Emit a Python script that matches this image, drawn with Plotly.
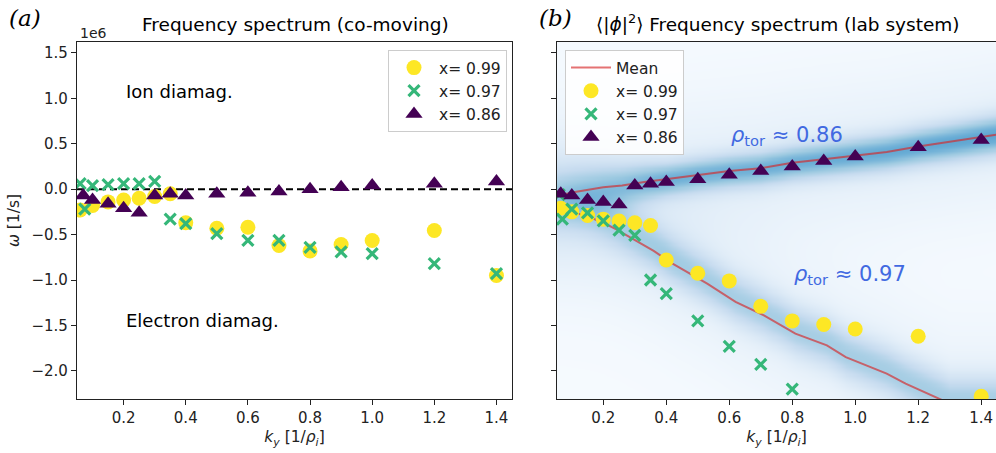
import numpy as np
import plotly.graph_objects as go

# ---------------- data (omega in units of 1e6 1/s) ----------------
k_99_co = [0.06, 0.1, 0.15, 0.2, 0.25, 0.3, 0.35, 0.4, 0.5, 0.6, 0.7, 0.8, 0.9, 1.0, 1.2, 1.4]
w_99_co = [-0.23, -0.18, -0.14, -0.12, -0.10, -0.08, -0.05, -0.37, -0.43, -0.42, -0.62, -0.68, -0.61, -0.565, -0.455, -0.95]

k_97_co = [0.06, 0.075, 0.1, 0.15, 0.2, 0.25, 0.3, 0.35, 0.4, 0.5, 0.6, 0.7, 0.8, 0.9, 1.0, 1.2, 1.4]
w_97_co = [0.06, -0.22, 0.04, 0.05, 0.06, 0.06, 0.085, -0.33, -0.38, -0.49, -0.565, -0.565, -0.64, -0.69, -0.71, -0.82, -0.93]

k_86_co = [0.07, 0.1, 0.15, 0.2, 0.25, 0.3, 0.35, 0.4, 0.5, 0.6, 0.7, 0.8, 0.9, 1.0, 1.2, 1.4]
w_86_co = [-0.07, -0.12, -0.16, -0.21, -0.26, -0.07, -0.05, -0.07, -0.05, -0.04, -0.025, 0.0, 0.02, 0.04, 0.06, 0.085]

k_99_lab = [0.065, 0.1, 0.15, 0.2, 0.25, 0.3, 0.35, 0.4, 0.5, 0.6, 0.7, 0.8, 0.9, 1.0, 1.2, 1.4]
w_99_lab = [-0.21, -0.25, -0.29, -0.33, -0.35, -0.37, -0.40, -0.78, -0.925, -1.01, -1.29, -1.45, -1.49, -1.54, -1.62, -2.28]

k_97_lab = [0.06, 0.07, 0.1, 0.15, 0.2, 0.25, 0.3, 0.35, 0.4, 0.5, 0.6, 0.7, 0.8]
w_97_lab = [-0.06, -0.33, -0.22, -0.26, -0.35, -0.45, -0.51, -1.0, -1.15, -1.45, -1.73, -1.93, -2.2]

k_86_lab = [0.065, 0.1, 0.15, 0.2, 0.25, 0.3, 0.35, 0.4, 0.5, 0.6, 0.7, 0.8, 0.9, 1.0, 1.2, 1.4]
w_86_lab = [-0.05, -0.07, -0.12, -0.14, -0.17, 0.04, 0.06, 0.08, 0.11, 0.16, 0.2, 0.25, 0.31, 0.36, 0.46, 0.54]

# mean of the spectrum (two branches)
k_mean_up = [0.07, 0.11, 0.2, 0.26, 0.33, 0.4, 0.5, 0.6, 0.7, 0.8, 0.9, 1.0, 1.1, 1.2, 1.3, 1.45]
w_mean_up = [-0.06, -0.03, 0.02, 0.04, 0.08, 0.11, 0.16, 0.2, 0.23, 0.29, 0.33, 0.37, 0.41, 0.47, 0.52, 0.60]
k_mean_lo = [0.07, 0.1, 0.15, 0.2, 0.24, 0.32, 0.36, 0.42, 0.53, 0.62, 0.71, 0.81, 0.91, 0.97, 1.1, 1.16, 1.27, 1.3]
w_mean_lo = [-0.22, -0.25, -0.30, -0.37, -0.44, -0.60, -0.68, -0.82, -1.04, -1.24, -1.39, -1.59, -1.72, -1.85, -2.03, -2.14, -2.31, -2.36]

# spectral power ridge description (amplitude / width along k)
ridge_k = [0.05, 0.2, 0.4, 1.0, 1.45]
ridge_up_amp = [0.16, 0.26, 0.38, 0.42, 0.45]
ridge_up_sig = [0.24, 0.18, 0.13, 0.14, 0.15]
ridge_lo_amp = [0.10, 0.19, 0.26, 0.27, 0.27]
ridge_lo_sig = [0.20, 0.20, 0.19, 0.19, 0.19]

xticks = [0.2, 0.4, 0.6, 0.8, 1.0, 1.2, 1.4]
yticks = [-2.0, -1.5, -1.0, -0.5, 0.0, 0.5, 1.0, 1.5]

labels = ["x= 0.99", "x= 0.97", "x= 0.86"]
YEL, GRN, PUR = "#fde725", "#35b779", "#440154"
MEANC = "rgba(214,39,40,0.65)"

W, H = 996, 453
FONT = "DejaVu Sans"

def px(x):
    return x / W

def py(y):
    return 1 - y / H

fig = go.Figure()

# ---------------- background spectrum in panel (b) ----------------
xs = np.linspace(0.053, 1.447, 220)
ys = np.linspace(-2.31, 1.62, 320)
X, Y = np.meshgrid(xs, ys)
up = np.interp(xs, k_mean_up, w_mean_up)[None, :]
lo = np.interp(xs, k_mean_lo, w_mean_lo)[None, :]
au = np.interp(xs, ridge_k, ridge_up_amp)[None, :]
su = np.interp(xs, ridge_k, ridge_up_sig)[None, :]
al = np.interp(xs, ridge_k, ridge_lo_amp)[None, :]
sl = np.interp(xs, ridge_k, ridge_lo_sig)[None, :]
Z = (0.01
     + au * np.exp(-0.5 * ((Y - up) / su) ** 2)
     + 0.08 * np.exp(-0.5 * ((Y - up) / 0.6) ** 2)
     + al * np.exp(-0.5 * ((Y - lo - 0.04) / sl) ** 2)
     + 0.07 * np.exp(-0.5 * ((Y - lo) / 0.6) ** 2))
fig.add_trace(go.Heatmap(x=xs, y=ys, z=Z, colorscale="Blues", zmin=0, zmax=1,
                         showscale=False, zsmooth="best", hoverinfo="skip",
                         xaxis="x2", yaxis="y2"))

# ---------------- panel (a) ----------------
fig.add_trace(go.Scatter(x=[0.05, 1.45], y=[0, 0], mode="lines",
                         line=dict(color="black", width=2, dash="7px,4px"),
                         showlegend=False, xaxis="x", yaxis="y", hoverinfo="skip"))
mk_yel = dict(symbol="circle", size=15, color=YEL)
mk_grn = dict(symbol="x-thin", size=11, color=GRN, line=dict(color=GRN, width=3.2))
mk_pur = dict(symbol="triangle-up", size=15, color=PUR)

fig.add_trace(go.Scatter(x=k_99_co, y=w_99_co, mode="markers", marker=mk_yel, name=labels[0],
                         legend="legend", xaxis="x", yaxis="y"))
fig.add_trace(go.Scatter(x=k_97_co, y=w_97_co, mode="markers", marker=mk_grn, name=labels[1],
                         legend="legend", xaxis="x", yaxis="y"))
fig.add_trace(go.Scatter(x=k_86_co, y=w_86_co, mode="markers", marker=mk_pur, name=labels[2],
                         legend="legend", xaxis="x", yaxis="y"))

# ---------------- panel (b) ----------------
fig.add_trace(go.Scatter(x=k_mean_up, y=w_mean_up, mode="lines", line=dict(color=MEANC, width=2),
                         name="Mean", legend="legend2", xaxis="x2", yaxis="y2"))
fig.add_trace(go.Scatter(x=k_mean_lo, y=w_mean_lo, mode="lines", line=dict(color=MEANC, width=2),
                         name="Mean", showlegend=False, xaxis="x2", yaxis="y2"))
fig.add_trace(go.Scatter(x=k_99_lab, y=w_99_lab, mode="markers", marker=mk_yel, name=labels[0],
                         legend="legend2", xaxis="x2", yaxis="y2"))
fig.add_trace(go.Scatter(x=k_97_lab, y=w_97_lab, mode="markers", marker=mk_grn, name=labels[1],
                         legend="legend2", xaxis="x2", yaxis="y2"))
fig.add_trace(go.Scatter(x=k_86_lab, y=w_86_lab, mode="markers", marker=mk_pur, name=labels[2],
                         legend="legend2", xaxis="x2", yaxis="y2"))

axis_common = dict(showgrid=False, zeroline=False, showline=True, linecolor="#222", linewidth=1.2,
                   ticks="outside", ticklen=5, tickwidth=1.1, tickcolor="#222",
                   tickfont=dict(family=FONT, size=15, color="#222"))

xtitle = dict(text="<i>k<sub>y</sub></i> [1/<i>ρ<sub>i</sub></i>]", font=dict(size=15.5), standoff=5)

fig.update_layout(
    width=W, height=H, margin=dict(l=0, r=0, t=0, b=0),
    paper_bgcolor="white", plot_bgcolor="white",
    font=dict(family=FONT, color="#222"),
    xaxis=dict(domain=[px(77), px(512)], range=[0.05, 1.45], tickvals=xticks,
               ticktext=[f"{v:.1f}" for v in xticks], mirror=True, anchor="y",
               title=xtitle, **axis_common),
    yaxis=dict(domain=[py(399), py(42)], range=[-2.31, 1.62], tickvals=yticks,
               ticktext=[f"{v:.1f}".replace("-", "\u2212") for v in yticks], mirror=True, anchor="x",
               title=dict(text="<i>ω</i> [1/s]", font=dict(size=15.5), standoff=8),
               **axis_common),
    xaxis2=dict(domain=[px(557), 1.0], range=[0.053, 1.447], tickvals=xticks,
                ticktext=[f"{v:.1f}" for v in xticks], mirror=True, anchor="y2",
                title=xtitle, **axis_common),
    yaxis2=dict(domain=[py(399), py(42)], range=[-2.31, 1.62], tickvals=yticks,
                showticklabels=False, mirror=False, anchor="x2", **axis_common),
    legend=dict(x=px(388), y=py(50), xanchor="left", yanchor="top",
                bgcolor="rgba(255,255,255,0.85)", bordercolor="#cccccc", borderwidth=1,
                font=dict(family=FONT, size=15.5, color="#222"), itemwidth=40, tracegroupgap=0),
    legend2=dict(x=px(565), y=py(50), xanchor="left", yanchor="top",
                 bgcolor="rgba(255,255,255,0.85)", bordercolor="#cccccc", borderwidth=1,
                 font=dict(family=FONT, size=15.5, color="#222"), itemwidth=40, tracegroupgap=0),
)

ann = [
    dict(text="<i>(a)</i>", x=px(7), y=py(18), xanchor="left", yanchor="middle",
         font=dict(family="DejaVu Serif", size=23, color="black")),
    dict(text="<i>(b)</i>", x=px(537), y=py(18), xanchor="left", yanchor="middle",
         font=dict(family="DejaVu Serif", size=23, color="black")),
    dict(text="Frequency spectrum (co-moving)", x=px(295), y=py(25), xanchor="center", yanchor="middle",
         font=dict(family=FONT, size=18.5, color="black")),
    dict(text="⟨|<i>ϕ</i>|<sup>2</sup>⟩ Frequency spectrum (lab system)", x=px(778), y=py(23),
         xanchor="center", yanchor="middle", font=dict(family=FONT, size=18.5, color="black")),
    dict(text="1e6", x=px(78), y=py(33), xanchor="left", yanchor="middle",
         font=dict(family=FONT, size=14, color="#222")),
]
for a in ann:
    a.update(xref="paper", yref="paper", showarrow=False)
    fig.add_annotation(**a)

fig.add_annotation(text="Ion diamag.", x=0.2, y=1.07, xref="x", yref="y", xanchor="left",
                   yanchor="middle", showarrow=False, font=dict(family=FONT, size=18, color="black"))
fig.add_annotation(text="Electron diamag.", x=0.2, y=-1.45, xref="x", yref="y", xanchor="left",
                   yanchor="middle", showarrow=False, font=dict(family=FONT, size=18, color="black"))
fig.add_annotation(text="<i>ρ</i><sub>tor</sub> ≈ 0.86", x=0.6, y=0.59, xref="x2", yref="y2",
                   xanchor="left", yanchor="middle", showarrow=False,
                   font=dict(family=FONT, size=21, color="#4169e1"))
fig.add_annotation(text="<i>ρ</i><sub>tor</sub> ≈ 0.97", x=0.8, y=-0.95, xref="x2", yref="y2",
                   xanchor="left", yanchor="middle", showarrow=False,
                   font=dict(family=FONT, size=21, color="#4169e1"))

fig.write_html("out.html")
